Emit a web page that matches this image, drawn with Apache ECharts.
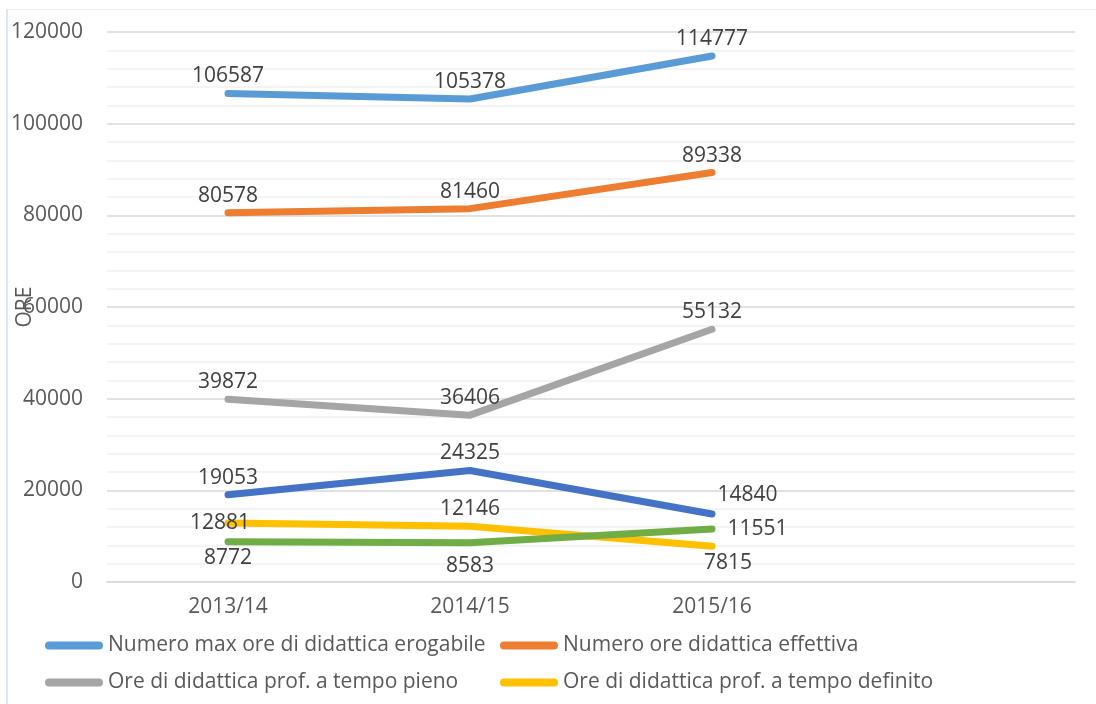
<!DOCTYPE html>
<html lang="it">
<head>
<meta charset="UTF-8" />
<title>Ore di didattica</title>
<script src="https://cdn.jsdelivr.net/npm/echarts@6/dist/echarts.min.js"></script>
<style>
  body { margin: 0; background: #fff; font-family: "Open Sans", sans-serif; }
  #frame { position: absolute; left: 6px; top: 9px; width: 1090px; height: 695px;
           border-top: 1px solid #f0f0f0; border-left: 2px solid #dbe6f2; }
  #chart { position: absolute; left: 0; top: 0; width: 1096px; height: 704px; }
</style>
</head>
<body>
<div id="frame"></div>
<div id="chart"></div>
<script>
  // data
  const categories = ['2013/14', '2014/15', '2015/16', ''];
  const maxErogabile = [106587, 105378, 114777];
  const effettiva = [80578, 81460, 89338];
  const tempoPieno = [39872, 36406, 55132];
  const ricercatori = [19053, 24325, 14840];
  const tempoDefinito = [12881, 12146, 7815];
  const contratto = [8772, 8583, 11551];
  const yTicks = [0, 20000, 40000, 60000, 80000, 100000, 120000];

  const textColor = '#595959';
  const font = '"Open Sans", sans-serif';
  const fs = 21;

  function labelled(values, places) {
    return values.map((v, i) => {
      const p = places[i] || {};
      return { value: v, label: Object.assign({ position: 'top', distance: 6 }, p) };
    });
  }

  function line(name, color, values, places) {
    return {
      name: name,
      type: 'line',
      data: labelled(values, places || []),
      symbol: 'circle',
      symbolSize: 1,
      showSymbol: true,
      lineStyle: { color: color, width: 7, cap: 'round', join: 'round' },
      itemStyle: { color: color },
      label: { show: true, color: '#404040', fontSize: fs, fontFamily: font },
      emphasis: { disabled: true },
      z: 2
    };
  }

  const pill = 'path://M4,0 H54 A4,4 0 0 1 54,8 H4 A4,4 0 0 1 4,0 Z';
  const legendBase = {
    orient: 'vertical', top: 630, itemWidth: 58, itemHeight: 8, itemGap: 16,
    icon: pill,
    textStyle: { color: textColor, fontSize: fs, fontFamily: font, lineHeight: 21 }
  };

  const chart = echarts.init(document.getElementById('chart'));
  chart.setOption({
    animation: false,
    grid: { left: 107, right: 21, top: 32, bottom: 122, outerBoundsMode: 'none', containLabel: false },
    legend: [
      Object.assign({ left: 40, data: ['Numero max ore di didattica erogabile', 'Ore di didattica prof. a tempo pieno'] }, legendBase),
      Object.assign({ left: 495, data: ['Numero ore didattica effettiva', 'Ore di didattica prof. a tempo definito'] }, legendBase)
    ],
    xAxis: {
      type: 'category',
      data: categories,
      boundaryGap: true,
      axisLine: { show: true, lineStyle: { color: '#d9d9d9', width: 1.5 } },
      axisTick: { show: false },
      axisLabel: { color: textColor, fontSize: fs, fontFamily: font, margin: 15 }
    },
    yAxis: {
      type: 'value',
      min: 0, max: 120000, interval: 4000,
      name: 'ORE', nameLocation: 'middle', nameGap: 71, nameMoveOverlap: false,
      nameTextStyle: { color: textColor, fontSize: fs, fontFamily: font },
      axisLine: { show: false },
      axisTick: { show: false },
      axisLabel: {
        color: textColor, fontSize: fs, fontFamily: font, margin: 24,
        formatter: v => yTicks.includes(v) ? String(v) : ''
      },
      splitLine: { lineStyle: { color: ['#d9d9d9', '#f0f0f0', '#f0f0f0', '#f0f0f0', '#f0f0f0'], width: 1.5 } }
    },
    series: [
      line('Numero max ore di didattica erogabile', '#5B9BD5', maxErogabile),
      line('Numero ore didattica effettiva', '#ED7D31', effettiva),
      line('Ore di didattica prof. a tempo pieno', '#A5A5A5', tempoPieno),
      line('Ore di didattica ricercatori', '#4472C4', ricercatori,
        [null, null, { position: 'right', distance: 5, offset: [0, -19] }]),
      line('Ore di didattica prof. a tempo definito', '#FFC000', tempoDefinito,
        [{ position: 'inside', offset: [-8, 0] }, null, { position: 'bottom', distance: 6, offset: [16, 0] }]),
      line('Ore di didattica a contratto', '#70AD47', contratto,
        [{ position: 'bottom', distance: 5 }, { position: 'bottom', distance: 12 }, { position: 'right', distance: 15 }])
    ]
  });
</script>
</body>
</html>
